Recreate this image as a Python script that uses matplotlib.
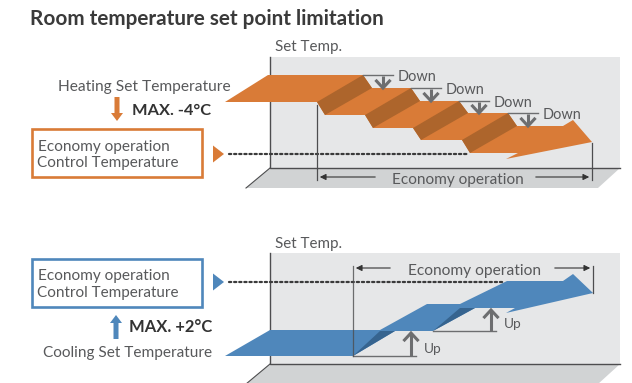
import matplotlib.pyplot as plt
from matplotlib.patches import Polygon, Rectangle

# ---- content -------------------------------------------------------------
title = "Room temperature set point limitation"
box_lines = ["Economy operation", "Control Temperature"]
heat_label = "Heating Set Temperature"
heat_max = "MAX. -4°C"
cool_label = "Cooling Set Temperature"
cool_max = "MAX. +2°C"
axis_label = "Set Temp."
span_label = "Economy operation"

# heating: top edge of each set temperature level, and where each drop starts (px)
heat_levels = [75, 88, 101, 113, 126]
heat_steps = [317, 365, 413, 462]
# cooling: bottom / top edge of each level, and where each rise starts (px)
cool_bottoms = [356, 331, 308]
cool_tops = [330, 304, 281]
cool_steps = [353, 433]
band = 27

ORANGE = "#d97b37"
ORANGE_D = "#ad652c"
BLUE = "#4f87bb"
BLUE_D = "#36648f"
WALL = "#e6e7e8"
FLOOR = "#d1d3d4"
EDGE = "#4d4d4f"
TXT = "#58595b"
ARROW = "#6d6e70"
FONT = "Lato"

fig = plt.figure(figsize=(6.32, 3.83), dpi=100)
ax = fig.add_axes([0, 0, 1, 1])
ax.set_xlim(0, 632)
ax.set_ylim(383, 0)
ax.axis("off")
renderer = fig.canvas.get_renderer()


def label(x, y, s, width, color=TXT, weight="normal", grow=1.05):
    # fit the text to the width it has in the picture (the original font is narrower)
    t = ax.text(x, y, s, va="baseline", ha="left", fontsize=10, color=color,
                family=FONT, weight=weight, zorder=10)
    w = t.get_window_extent(renderer).width
    t.set_fontsize(10 * width / w * grow)
    return t


def room(top, bottom):
    ax.add_patch(Rectangle((270, top), 350, bottom - top, color=WALL, lw=0, zorder=0))
    ax.add_patch(Polygon([(270, bottom), (620, bottom), (598, bottom + 20), (246, bottom + 20)],
                         closed=True, color=FLOOR, lw=0, zorder=0))
    ax.plot([270, 270, 620], [top, bottom, bottom], color=EDGE, lw=1.0, zorder=1)
    ax.plot([270, 246], [bottom, bottom + 20], color=EDGE, lw=0.8, zorder=1)


def block_arrow(x, y0, y1, color):
    # filled arrow from y0 to y1
    d = 1 if y1 > y0 else -1
    hl = 8
    pts = [(x - 2.5, y0), (x + 2.5, y0), (x + 2.5, y1 - d * hl), (x + 6, y1 - d * hl),
           (x, y1), (x - 6, y1 - d * hl), (x - 2.5, y1 - d * hl)]
    ax.add_patch(Polygon(pts, closed=True, color=color, lw=0, zorder=5))


def line_arrow(x, y0, y1):
    d = 1 if y1 > y0 else -1
    ax.plot([x, x], [y0, y1 - d * 1], color=ARROW, lw=2.2, zorder=6, solid_capstyle="butt")
    ax.plot([x - 6.5, x, x + 6.5], [y1 - d * 7, y1, y1 - d * 7], color=ARROW, lw=2.2,
            zorder=6, solid_joinstyle="miter")


def span(y, x0, x1, gap0, gap1):
    kw = dict(arrowstyle="-|>", color="#333333", lw=0.8, mutation_scale=9)
    ax.annotate("", xy=(x0, y), xytext=(gap0, y), arrowprops=kw, zorder=7)
    ax.annotate("", xy=(x1, y), xytext=(gap1, y), arrowprops=kw, zorder=7)


def dotted(y, x1, color):
    ax.add_patch(Polygon([(213, y - 8.5), (213, y + 8.5), (224, y)], closed=True,
                         color=color, lw=0, zorder=5))
    ax.plot([229, x1], [y, y], color="#3a3a3a", lw=1.6, ls=(0, (1, 1.3)),
            dash_capstyle="round", zorder=4)


# ---- title ---------------------------------------------------------------
label(30, 25, title, 355, color="#3a3a3a", weight="bold", grow=1.0)

# ---- heating panel -------------------------------------------------------
room(57, 168)
label(275, 51, axis_label, 64)
label(58, 91, heat_label, 164)
block_arrow(117, 97, 121, ORANGE)
label(132, 115, heat_max, 75, color="#333333", weight="bold")
ax.add_patch(Rectangle((32, 129), 170, 48, fill=False, ec=ORANGE, lw=1.9, zorder=5))
label(38, 151, box_lines[0], 126)
label(37, 167, box_lines[1], 135)
dotted(154, 467, ORANGE)

pts = [(225, heat_levels[0] + band), (268, heat_levels[0])]
for xs, y0, y1 in zip(heat_steps, heat_levels[:-1], heat_levels[1:]):
    pts += [(xs + 46, y0), (xs + 55, y1)]
last = heat_levels[-1]
pts += [(563, last), (573, last - 6), (592, last + 16), (506, last + 33), (518, last + band)]
for xs, y0, y1 in reversed(list(zip(heat_steps, heat_levels[:-1], heat_levels[1:]))):
    pts += [(xs + 8, y1 + band), (xs, y0 + band)]
ax.add_patch(Polygon(pts, closed=True, color=ORANGE, lw=0, zorder=3))
for xs, y0, y1 in zip(heat_steps, heat_levels[:-1], heat_levels[1:]):
    ax.add_patch(Polygon([(xs, y0 + band), (xs + 46, y0), (xs + 55, y1), (xs + 8, y1 + band)],
                         closed=True, color=ORANGE_D, lw=0, zorder=3))
    ax.plot([xs + 46, xs + 76], [y0, y0], color=ARROW, lw=1.0, zorder=6)
    line_arrow(xs + 66, y0 + 1, y1)
    label(xs + 81, y0 + 6, "Down", 37)

ax.plot([317, 317], [105, 180], color=EDGE, lw=0.9, zorder=6)
ax.plot([592, 592], [143, 180], color=EDGE, lw=0.9, zorder=6)
span(177, 317, 592, 378, 533)
label(392, 184, span_label, 126)

# ---- cooling panel -------------------------------------------------------
room(253, 364)
label(275, 248, axis_label, 64)
ax.add_patch(Rectangle((32, 259), 170, 48, fill=False, ec=BLUE, lw=1.9, zorder=5))
label(38, 280, box_lines[0], 126)
label(37, 297, box_lines[1], 135)
block_arrow(116, 339, 315, BLUE)
label(129, 332, cool_max, 79, color="#333333", weight="bold")
label(43, 357, cool_label, 162)
dotted(282, 503, BLUE)

pts = [(225, cool_bottoms[0]), (270, cool_tops[0])]
for xs, t0, t1 in zip(cool_steps, cool_tops[:-1], cool_tops[1:]):
    pts += [(xs + 27, t0), (xs + 74, t1)]
last = cool_tops[-1]
pts += [(563, last), (573, last - 7), (593, last + 12), (506, last + 32), (515, last + band)]
for xs, b0, b1 in reversed(list(zip(cool_steps, cool_bottoms[:-1], cool_bottoms[1:]))):
    pts += [(xs + 42, b1), (xs, b0)]
ax.add_patch(Polygon(pts, closed=True, color=BLUE, lw=0, zorder=3))
for xs, b0, b1 in zip(cool_steps, cool_bottoms[:-1], cool_bottoms[1:]):
    ax.add_patch(Polygon([(xs, b0), (xs + 27, b1), (xs + 42, b1)], closed=True,
                         color=BLUE_D, lw=0, zorder=3))
    ax.plot([xs, xs + 63], [b0, b0], color=ARROW, lw=1.0, zorder=6)
    line_arrow(xs + 58, b0, b1 + 2)
    label(xs + 71, b0 - 3, "Up", 17)

ax.plot([353, 353], [266, 356], color=EDGE, lw=0.9, alpha=0.8, zorder=6)
ax.plot([593, 593], [266, 293], color=EDGE, lw=0.9, zorder=6)
span(268, 353, 593, 393, 552)
label(408, 275, span_label, 127)

fig.savefig("out.png", dpi=100)
